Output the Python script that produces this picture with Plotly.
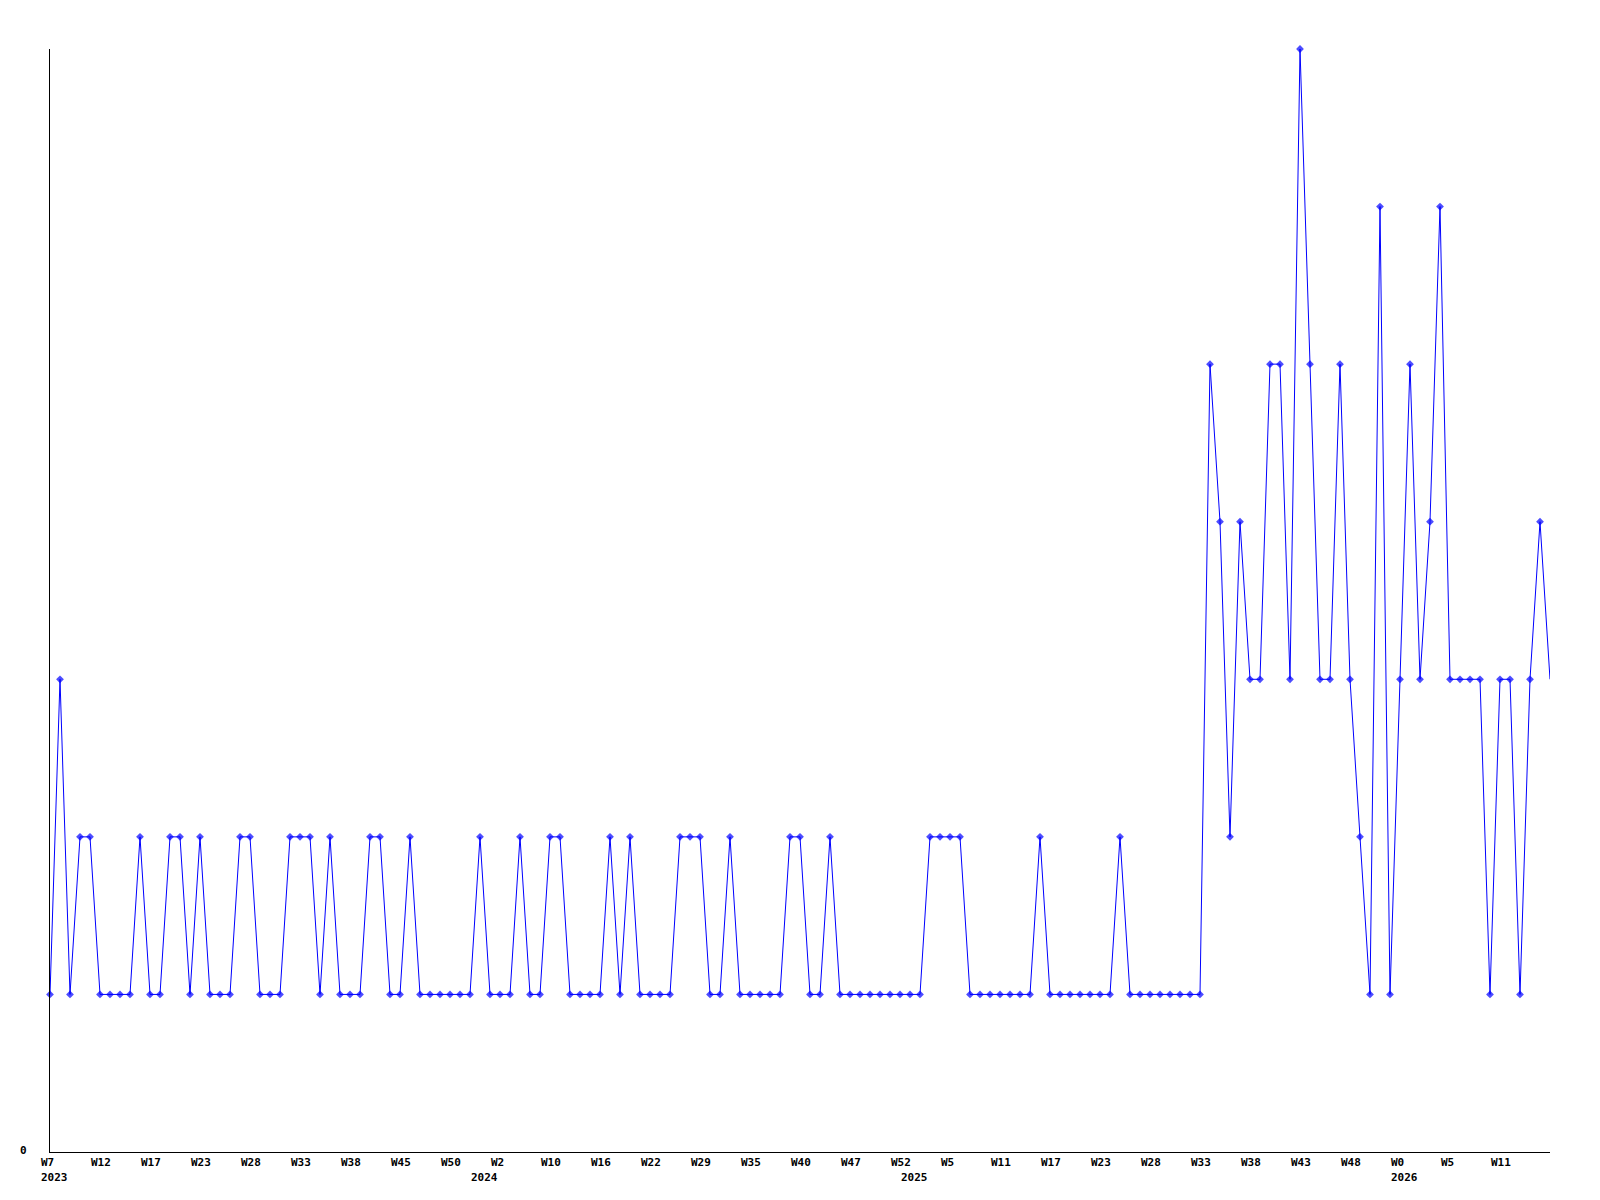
import plotly.graph_objects as go

# Weekly values (one point per week, index 0..150)
values = [
    1, 3, 1, 2, 2, 1, 1, 1, 1, 2,
    1, 1, 2, 2, 1, 2, 1, 1, 1, 2,
    2, 1, 1, 1, 2, 2, 2, 1, 2, 1,
    1, 1, 2, 2, 1, 1, 2, 1, 1, 1,
    1, 1, 1, 2, 1, 1, 1, 2, 1, 1,
    2, 2, 1, 1, 1, 1, 2, 1, 2, 1,
    1, 1, 1, 2, 2, 2, 1, 1, 2, 1,
    1, 1, 1, 1, 2, 2, 1, 1, 2, 1,
    1, 1, 1, 1, 1, 1, 1, 1, 2, 2,
    2, 2, 1, 1, 1, 1, 1, 1, 1, 2,
    1, 1, 1, 1, 1, 1, 1, 2, 1, 1,
    1, 1, 1, 1, 1, 1, 5, 4, 2, 4,
    3, 3, 5, 5, 3, 7, 5, 3, 3, 5,
    3, 2, 1, 6, 1, 3, 5, 3, 4, 6,
    3, 3, 3, 3, 1, 3, 3, 1, 3, 4,
    3,
]
x_index = list(range(len(values)))

# Week tick labels (every 5th point)
week_tick_index = list(range(0, 150, 5))
week_tick_text = ["W7", "W12", "W17", "W23", "W28", "W33", "W38", "W45", "W50", "W2",
                  "W10", "W16", "W22", "W29", "W35", "W40", "W47", "W52", "W5", "W11",
                  "W17", "W23", "W28", "W33", "W38", "W43", "W48", "W0", "W5", "W11"]
year_tick_index = [0, 43, 86, 135]
year_tick_text = ["2023", "2024", "2025", "2026"]

FONT = "DejaVu Sans Mono"

marker_sizes = [6] * (len(values) - 1) + [0]

fig = go.Figure()
fig.add_trace(go.Scatter(
    x=x_index, y=values, mode="lines+markers",
    line=dict(color="#0000FF", width=1),
    marker=dict(color="#0000FF", size=marker_sizes, symbol="diamond", line=dict(width=0)),
    showlegend=False, hoverinfo="skip",
))

annotations = []
for i, t in zip(week_tick_index, week_tick_text):
    annotations.append(dict(x=i, xref="x", y=0, yref="paper", text="<b>%s</b>" % t,
                            showarrow=False, xanchor="left", yanchor="middle",
                            xshift=-11, yshift=-10,
                            font=dict(family=FONT, size=11, color="black")))
for i, t in zip(year_tick_index, year_tick_text):
    annotations.append(dict(x=i, xref="x", y=0, yref="paper", text="<b>%s</b>" % t,
                            showarrow=False, xanchor="left", yanchor="middle",
                            xshift=-11, yshift=-25,
                            font=dict(family=FONT, size=11, color="black")))
annotations.append(dict(x=0, xref="paper", y=0, yref="paper", text="<b>0</b>",
                        showarrow=False, xanchor="center", yanchor="middle",
                        xshift=-27, yshift=2,
                        font=dict(family=FONT, size=11, color="black")))

fig.update_layout(
    width=1600, height=1200,
    margin=dict(l=42, r=58, t=41, b=56),
    paper_bgcolor="white", plot_bgcolor="white",
    annotations=annotations,
    xaxis=dict(range=[0, 150], showgrid=False, zeroline=False, showticklabels=False,
               ticks="", showline=True, linecolor="black", linewidth=1, fixedrange=True),
    yaxis=dict(range=[0, 7], showgrid=False, zeroline=False, showticklabels=False,
               ticks="", showline=True, linecolor="black", linewidth=1, fixedrange=True),
)
fig.update_traces(cliponaxis=False)

fig.write_html("out.html")
